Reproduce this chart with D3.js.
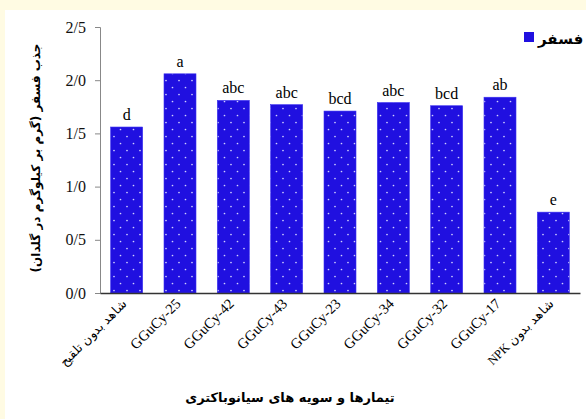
<html>
<head>
<script src="https://d3js.org/d3.v7.min.js"></script>
<style>
  body{margin:0;background:#fffbe3;}
  svg{display:block;}
</style>
</head>
<body>
<script>
const categories=['شاهد بدون تلقیح','GGuCy-25','GGuCy-42','GGuCy-43','GGuCy-23','GGuCy-34','GGuCy-32','GGuCy-17','شاهد بدون NPK'];
const values=[1.56,2.06,1.81,1.77,1.71,1.79,1.76,1.84,0.76];
const letters=['d','a','abc','abc','bcd','abc','bcd','ab','e'];
const yTicks=[0,0.5,1,1.5,2,2.5];
const yTickLabels=['0/0','0/5','1/0','1/5','2/0','2/5'];
const seriesName='فسفر';
const yTitle='جذب فسفر (گرم بر کیلوگرم در گلدان)';
const xTitle='تیمارها و سویه های سیانوباکتری';

const W=586,H=419;
const serif="'Liberation Serif', 'Times New Roman', serif";
const svg=d3.select('body').append('svg').attr('width',W).attr('height',H);

svg.append('rect').attr('x',0).attr('y',0).attr('width',W).attr('height',H).attr('fill','#fffbe3');
svg.append('rect').attr('x',5).attr('y',10).attr('width',W-5).attr('height',H-10).attr('fill','#ffffff');

const defs=svg.append('defs');
const pat=defs.append('pattern').attr('id','dots').attr('patternUnits','userSpaceOnUse')
  .attr('width',13).attr('height',14);
pat.append('rect').attr('width',13).attr('height',14).attr('fill','#2010e0');
pat.append('circle').attr('cx',3.5).attr('cy',3.5).attr('r',0.85).attr('fill','#d0d0ff');
pat.append('circle').attr('cx',10).attr('cy',10.5).attr('r',0.85).attr('fill','#d0d0ff');

const x=d3.scaleBand().domain(categories).range([100,580]).paddingInner(0.4).paddingOuter(0.2);
const y=d3.scaleLinear().domain([0,2.5]).range([293,27]);

// bars
svg.append('g').selectAll('rect').data(values).enter().append('rect')
  .attr('x',(d,i)=>x(categories[i]))
  .attr('y',d=>y(d))
  .attr('width',x.bandwidth())
  .attr('height',d=>y(0)-y(d))
  .attr('fill','url(#dots)')
  .attr('stroke','#3a30f0').attr('stroke-width',0.6);

// letters
svg.append('g').selectAll('text').data(values).enter().append('text')
  .attr('x',(d,i)=>x(categories[i])+x.bandwidth()/2)
  .attr('y',d=>y(d)-7)
  .attr('text-anchor','middle')
  .style('font-family',serif).style('font-size','16px')
  .text((d,i)=>letters[i]);

// y axis
const yAxis=d3.axisLeft(y).tickValues(yTicks).tickSize(5).tickFormat((d,i)=>yTickLabels[i]);
const ga=svg.append('g').attr('transform','translate(100,0)').call(yAxis);
ga.select('.domain').attr('stroke','#888');
ga.selectAll('.tick line').attr('stroke','#888');
ga.selectAll('.tick text').attr('x',-14).attr('fill','#111')
  .style('font-family',serif).style('font-size','16px');

// x axis baseline
const xAxis=d3.axisBottom(x).tickSize(0).tickFormat(d=>d);
const gx=svg.append('g').attr('transform','translate(0,293)').call(xAxis);
gx.select('.domain').attr('stroke','#333').attr('stroke-width',1.5);
gx.selectAll('.tick text')
  .each(function(d){
    const t=d3.select(this);
    const rtl=/[\u0600-\u06FF]/.test(d);
    t.attr('direction',rtl?'rtl':'ltr').attr('text-anchor',rtl?'start':'end')
      .style('font-size',rtl?'12.5px':'14.5px');
  })
  .attr('transform','translate(-2,8) rotate(-45)')
  .attr('dy','0.35em').attr('x',0).attr('y',0)
  .attr('fill','#000')
  .style('font-family',serif);

// y title
svg.append('text')
  .attr('transform','translate(40,158) rotate(-90)')
  .attr('text-anchor','middle')
  .style('font-family','DejaVu Sans, sans-serif').style('font-size','12px').style('font-weight','bold')
  .text(yTitle);

// x title
svg.append('text')
  .attr('x',290).attr('y',402)
  .attr('text-anchor','middle')
  .style('font-family','DejaVu Sans, sans-serif').style('font-size','13px').style('font-weight','bold')
  .text(xTitle);

// legend
svg.append('rect').attr('x',524).attr('y',32).attr('width',10).attr('height',10).attr('fill','#2010e0');
svg.append('text').attr('x',538).attr('y',44).attr('text-anchor','start')
  .style('font-family','DejaVu Sans, sans-serif').style('font-size','15px').style('font-weight','bold')
  .text(seriesName);
</script>
</body>
</html>
